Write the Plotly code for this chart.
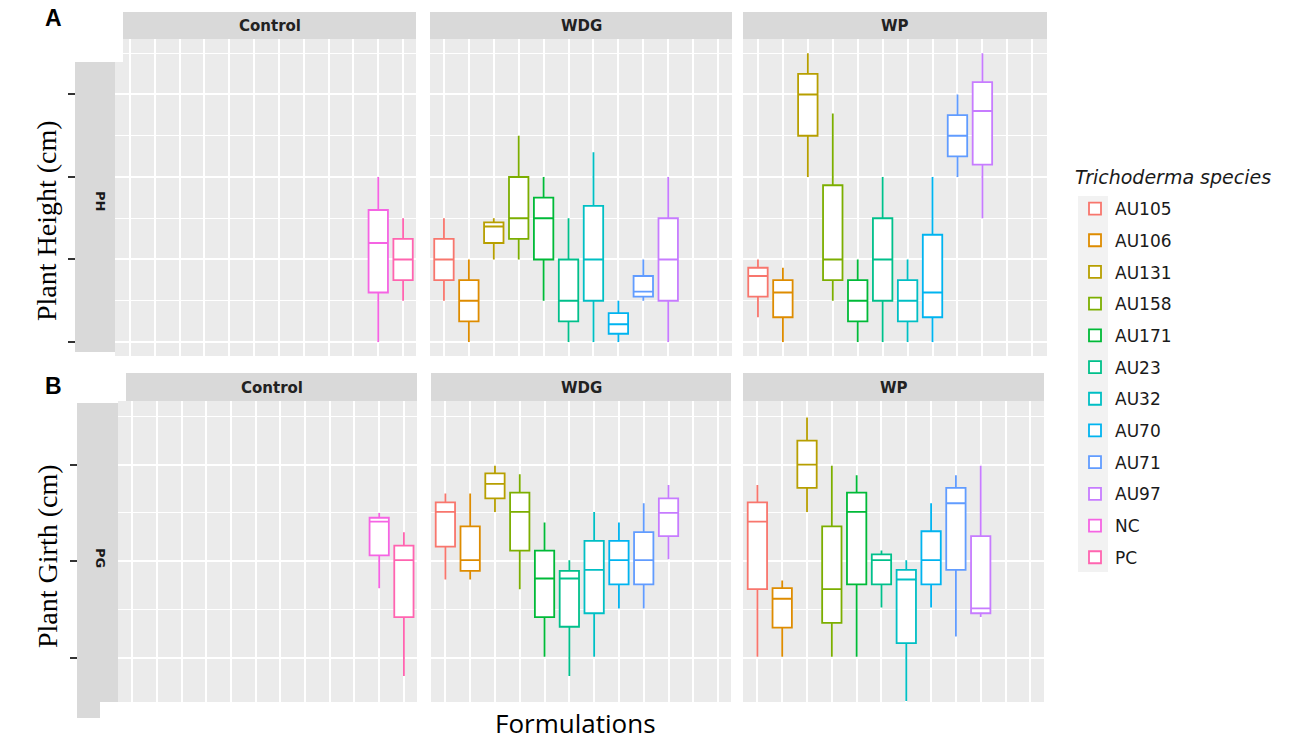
import plotly.graph_objects as go

W, H = 1299, 750

SPECIES = ["AU105", "AU106", "AU131", "AU158", "AU171", "AU23",
           "AU32", "AU70", "AU71", "AU97", "NC", "PC"]
COLORS = ["#F8766D", "#DE8C00", "#B79F00", "#7CAE00", "#00BA38", "#00C08B",
          "#00BFC4", "#00B4F0", "#619CFF", "#C77CFF", "#F564E3", "#FF64B0"]
FACETS = ["Control", "WDG", "WP"]

# five-number rows: lower whisker, q1, median, q3, upper whisker
CONTROL_SPECIES = ["NC", "PC"]
TREATED_SPECIES = SPECIES[:10]

PH_CONTROL = [[20, 32, 44, 52, 60], [30, 35, 40, 45, 50]]
PH_WDG = [[30, 35, 40, 45, 50], [20, 25, 30, 35, 40], [40, 44, 48, 49, 50],
          [40, 45, 50, 60, 70], [30, 40, 50, 55, 60], [20, 25, 30, 40, 50],
          [20, 30, 40, 53, 66], [20, 22, 24.3, 27, 30], [30, 31, 32.2, 36, 40],
          [20, 30, 40, 50, 60]]
PH_WP = [[26, 31, 36, 38, 40], [20, 26, 32, 35, 38], [60, 70, 80, 85, 90],
         [30, 35, 40, 58, 75.4], [20, 25, 30, 35, 40], [20, 30, 40, 50, 60],
         [20, 25, 30, 35, 40], [20, 26, 32, 46, 60], [60, 65, 70, 75, 80],
         [50, 63, 76, 83, 90]]

PG_CONTROL = [[2.72, 3.06, 3.41, 3.45, 3.50], [1.81, 2.42, 3.01, 3.16, 3.30]]
PG_WDG = [[2.81, 3.15, 3.51, 3.61, 3.70], [2.81, 2.90, 3.01, 3.36, 3.70],
          [3.51, 3.65, 3.80, 3.91, 3.99], [2.71, 3.11, 3.51, 3.71, 3.90],
          [2.01, 2.42, 2.82, 3.11, 3.40], [1.81, 2.32, 2.82, 2.90, 3.01],
          [2.01, 2.46, 2.91, 3.21, 3.51], [2.51, 2.76, 3.01, 3.21, 3.40],
          [2.51, 2.76, 3.01, 3.30, 3.60], [3.02, 3.26, 3.50, 3.65, 3.79]]
PG_WP = [[2.01, 2.71, 3.41, 3.61, 3.79], [2.01, 2.31, 2.61, 2.72, 2.80],
         [3.51, 3.76, 4.00, 4.25, 4.49], [2.01, 2.36, 2.71, 3.36, 3.99],
         [2.01, 2.76, 3.51, 3.71, 3.89], [2.52, 2.76, 3.01, 3.07, 3.11],
         [1.55, 2.15, 2.81, 2.91, 3.01], [2.52, 2.76, 3.01, 3.31, 3.60],
         [2.22, 2.91, 3.60, 3.76, 3.89], [2.42, 2.46, 2.51, 3.26, 3.99]]

PH_RANGE = [16.6, 93.45]
PG_RANGE = [1.54, 4.66]


def px_x(p):
    return p / W


def px_y(p):
    return 1 - p / H


# panel boxes in pixels: (left, right, top, bottom, x range)
panels = [
    (115, 416, 39, 356, [0.4, 12.52]),
    (430, 732, 39, 356, [0.44, 12.56]),
    (743, 1047, 39, 356, [0.4, 12.59]),
    (118, 417, 401, 702, [0.43, 12.53]),
    (431, 731, 401, 702, [0.42, 12.52]),
    (743, 1044, 401, 702, [0.42, 12.55]),
]
panel_data = [
    (CONTROL_SPECIES, PH_CONTROL), (TREATED_SPECIES, PH_WDG), (TREATED_SPECIES, PH_WP),
    (CONTROL_SPECIES, PG_CONTROL), (TREATED_SPECIES, PG_WDG), (TREATED_SPECIES, PG_WP),
]

fig = go.Figure()
shown = set()
for k, (names, rows) in enumerate(panel_data):
    suffix = "" if k == 0 else str(k + 1)
    for name, row in zip(names, rows):
        i = SPECIES.index(name)
        fig.add_trace(go.Box(
            x=[i + 1], lowerfence=[row[0]], q1=[row[1]], median=[row[2]],
            q3=[row[3]], upperfence=[row[4]],
            name=name, legendgroup=name, legendrank=i + 1,
            showlegend=name not in shown,
            width=0.78, whiskerwidth=0, fillcolor="white",
            line=dict(color=COLORS[i], width=1.8),
            boxpoints=False, hoverinfo="skip",
            xaxis="x" + suffix, yaxis="y" + suffix,
        ))
        shown.add(name)

layout = dict(
    width=W, height=H,
    margin=dict(l=0, r=0, t=0, b=0),
    paper_bgcolor="white", plot_bgcolor="#EBEBEB",
    showlegend=True,
    legend=dict(
        x=px_x(1075), y=px_y(191), xanchor="left", yanchor="top",
        traceorder="grouped", tracegroupgap=6.6,
        font=dict(family="DejaVu Sans", size=17, color="#1A1A1A"),
        bgcolor="rgba(0,0,0,0)",
    ),
)

for k, (l, r, t, b, xr) in enumerate(panels):
    suffix = "" if k == 0 else str(k + 1)
    is_ph = k < 3
    layout["xaxis" + suffix] = dict(
        domain=[px_x(l), px_x(r)], range=xr,
        anchor="y" + suffix, tickvals=list(range(1, 13)),
        showticklabels=False, ticks="", showgrid=True,
        gridcolor="white", gridwidth=2, zeroline=False, showline=False,
    )
    yax = dict(
        domain=[px_y(b), px_y(t)], range=PH_RANGE if is_ph else PG_RANGE,
        tick0=0, dtick=20 if is_ph else 1,
        showticklabels=False, showgrid=True, gridcolor="white", gridwidth=2,
        minor=dict(dtick=10 if is_ph else 0.5, showgrid=True,
                   gridcolor="white", gridwidth=1.2),
        zeroline=False, showline=False,
    )
    if k % 3 == 0:
        yax.update(anchor="free", position=px_x(75 if is_ph else 77),
                   ticks="outside", ticklen=7, tickwidth=1.5, tickcolor="#333333")
    else:
        yax.update(anchor="x" + suffix, ticks="")
    layout["yaxis" + suffix] = yax

fig.update_layout(**layout)

shapes = []
annotations = []


def label(text, x, y, font, angle=0, xanchor="center"):
    annotations.append(dict(text=text, xref="paper", yref="paper",
                            x=px_x(x), y=px_y(y), xanchor=xanchor, yanchor="middle",
                            textangle=angle, showarrow=False, font=font))


def rect(l, r, t, b, color, layer="below"):
    shapes.append(dict(type="rect", xref="paper", yref="paper",
                       x0=px_x(l), x1=px_x(r), y0=px_y(b), y1=px_y(t),
                       fillcolor=color, line=dict(width=0), layer=layer))


strip_font = dict(family="DejaVu Sans", size=15, color="#222222", weight="bold")

# facet strips on top
strips = [(123, 416, 12, 39), (430, 732, 12, 39), (743, 1047, 12, 39),
          (126, 417, 373, 401), (431, 731, 373, 401), (743, 1044, 373, 401)]
for k, (l, r, t, b) in enumerate(strips):
    rect(l, r, t, b, "#D9D9D9")
    label(FACETS[k % 3], (l + r) / 2, (t + b) / 2 + 1, strip_font)

# row strips on the left
for l, r, t, b in [(75, 115, 62, 352), (77, 118, 403, 702), (77, 100, 702, 718)]:
    rect(l, r, t, b, "#D9D9D9")
# white patch at the top left corner of panel A
rect(100, 123, 38, 62, "white", layer="above")
# grey key column behind the legend
rect(1078, 1108, 196, 572, "#F2F2F2")

for txt, y in [("PH", 201), ("PG", 558)]:
    label(txt, 101, y, dict(family="DejaVu Sans", size=13, color="#1A1A1A", weight="bold"),
          angle=90)

for txt, y in [("A", 18), ("B", 386)]:
    label("<b>%s</b>" % txt, 53, y, dict(family="Liberation Sans", size=23, color="black"))

for txt, y in [("Plant Height (cm)", 221), ("Plant Girth (cm)", 556)]:
    label(txt, 47, y, dict(family="Liberation Serif", size=28, color="black"), angle=-90)

label("Formulations", 575, 723, dict(family="Open Sans", size=26, color="black"))
label("<i>Trichoderma species</i>", 1073, 177,
      dict(family="DejaVu Sans", size=19, color="#1A1A1A"), xanchor="left")

fig.update_layout(shapes=shapes, annotations=annotations)

fig.write_html("out.html", config={"displayModeBar": False},
               post_script="document.body.style.margin='0';")
